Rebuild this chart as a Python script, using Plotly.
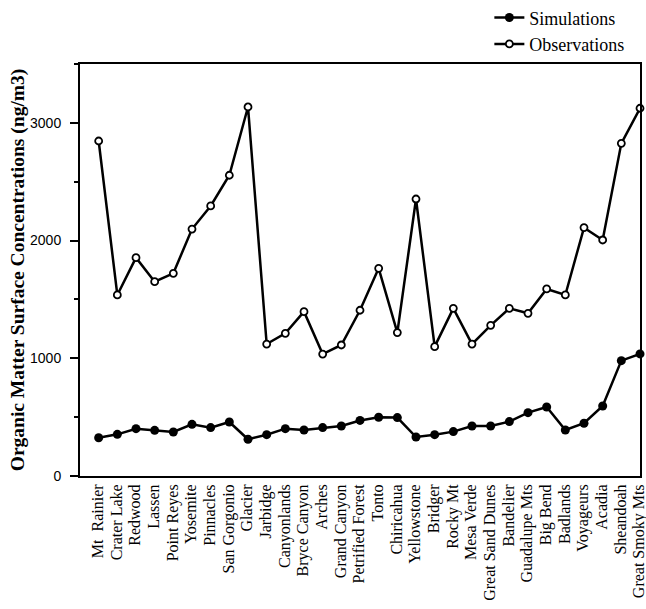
import plotly.graph_objects as go

sites = ["Mt  Rainier", "Crater Lake", "Redwood", "Lassen", "Point Reyes", "Yosemite",
         "Pinnacles", "San Gorgonio", "Glacier", "Jarbidge", "Canyonlands", "Bryce Canyon",
         "Arches", "Grand Canyon", "Petrified Forest", "Tonto", "Chiricahua", "Yellowstone",
         "Bridger", "Rocky Mt", "Mesa Verde", "Great Sand Dunes", "Bandelier", "Guadalupe Mts",
         "Big Bend", "Badlands", "Voyageurs", "Acadia", "Sheandoah", "Great Smoky Mts"]

simulations = [325, 354, 402, 388, 374, 439, 411, 459, 312, 351, 402, 391, 411, 425, 472,
               499, 496, 331, 351, 377, 425, 425, 462, 538, 586, 391, 448, 595, 980, 1037]

observations = [2846, 1538, 1855, 1651, 1722, 2098, 2294, 2555, 3135, 1121, 1212, 1396,
                1036, 1113, 1408, 1764, 1218, 2353, 1099, 1424, 1121, 1280, 1424, 1382,
                1589, 1538, 2110, 2005, 2826, 3124]

yticks = [0, 1000, 2000, 3000]

fig = go.Figure()
fig.add_trace(go.Scatter(
    x=sites, y=simulations, mode="lines+markers", name="Simulations",
    line=dict(color="black", width=2.5),
    marker=dict(symbol="circle", size=9, color="black"),
    cliponaxis=False, legendgroup="sim"))
fig.add_trace(go.Scatter(
    x=sites, y=observations, mode="lines+markers", name="Observations",
    line=dict(color="black", width=2.5),
    marker=dict(symbol="circle", size=7, color="white", line=dict(color="black", width=1.8)),
    cliponaxis=False, legendgroup="obs"))

fig.update_layout(
    width=646, height=609,
    margin=dict(l=80, r=6, t=64, b=133, autoexpand=False),
    plot_bgcolor="white", paper_bgcolor="white",
    showlegend=True,
    legend=dict(x=0.731, y=1.157, xanchor="left", yanchor="top",
                font=dict(family="Liberation Serif", size=18, color="black"),
                bgcolor="rgba(0,0,0,0)", tracegroupgap=0, traceorder="grouped"),
    font=dict(family="Liberation Serif", color="black"),
)
fig.update_xaxes(
    type="category", range=[-1, 29], showline=True, linecolor="black", linewidth=2,
    mirror=True, ticks="", tickangle=-90, showgrid=False, zeroline=False,
    tickmode="array", tickvals=sites, ticktext=sites, automargin=False,
    ticklabelshift=-1,
    tickfont=dict(family="Liberation Serif", size=16, color="black"))
fig.update_yaxes(
    range=[0, 3500], tickvals=yticks, showline=True, linecolor="black", linewidth=2,
    mirror=True, ticks="outside", ticklen=8, tickwidth=2, tickcolor="black",
    minor=dict(dtick=500, ticks="outside", ticklen=4, tickwidth=2, tickcolor="black"),
    showgrid=False, zeroline=False, automargin=False, ticklabelstandoff=6,
    tickfont=dict(family="Liberation Sans", size=14, color="black"),
    title=dict(text="<b>Organic Matter Surface Concentrations (ng/m3)</b>",
               font=dict(family="Liberation Serif", size=19.5, color="black"), standoff=0))

fig.write_html("out.html", post_script="document.body.style.margin='0';",
               config={"displayModeBar": False})
